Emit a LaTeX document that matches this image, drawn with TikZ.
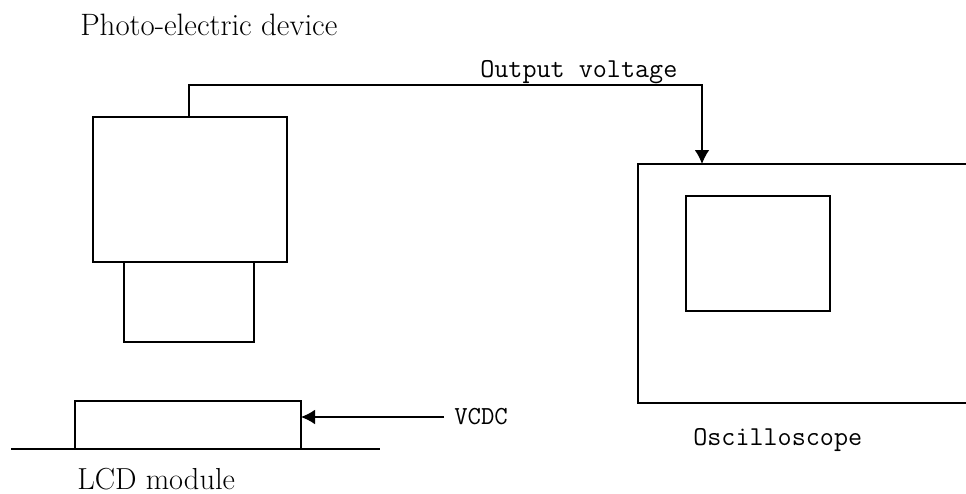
\documentclass[tikz,border=0pt]{standalone}
\usepackage{fontspec}
\setmainfont{Latin Modern Roman}
\setmonofont{Latin Modern Mono}
\usetikzlibrary{arrows.meta}
\begin{document}
\begin{tikzpicture}[x=0.75pt,y=-0.75pt,
  box/.style={draw=black,line width=0.95pt,inner sep=0pt,outer sep=0pt},
  wire/.style={draw=black,line width=0.95pt},
  tip/.style={-{Latex[length=10.5pt,width=11pt]}},
  serif/.style={inner sep=0pt,font=\fontsize{23.2}{26}\selectfont,anchor=base west},
  mono/.style={inner sep=0pt,font=\ttfamily\fontsize{20.5}{24}\selectfont,anchor=base west}]
\useasboundingbox (0,0) rectangle (966,493);
\node[box,anchor=north west,minimum width=145.5pt,minimum height=108.75pt] (photo) at (93,117) {};
\node[box,anchor=north west,minimum width=97.5pt,minimum height=60pt] (lens) at (124,262) {};
\node[box,anchor=north west,minimum width=169.5pt,minimum height=36pt] (lcd) at (75,401) {};
\node[box,anchor=north west,minimum width=108pt,minimum height=86.25pt] (screen) at (686,196) {};
\coordinate (scopeTR) at (966,164);
\coordinate (scopeTL) at (638,164);
\coordinate (scopeBL) at (638,403);
\coordinate (scopeBR) at (966,403);
\draw[wire] (scopeTR) -- (scopeTL) -- (scopeBL) -- (scopeBR);
\coordinate (gndL) at (11,449);
\coordinate (gndR) at (380,449);
\draw[wire] (gndL) -- (gndR);
\coordinate (wireStart) at (189,117);
\coordinate (wireEnd) at (702,164);
\draw[wire,tip] (wireStart) -- (189,85) -- (702,85) -- (wireEnd);
\node[serif] (lblPhoto) at (80,35) {Photo-electric device};
\node[mono] (lblOut) at (480,77) {Output voltage};
\node[mono,font=\ttfamily\fontsize{19.5}{24}\selectfont] (lblVcdc) at (454,424) {VCDC};
\node[mono] (lblOsc) at (693,445) {Oscilloscope};
\node[serif,font=\fontsize{22.8}{26}\selectfont] (lblLcd) at (77,489) {LCD module};
\coordinate (vcdcEnd) at (444,417);
\draw[wire,tip] (vcdcEnd) -- (lcd.east |- vcdcEnd);
\end{tikzpicture}
\end{document}
